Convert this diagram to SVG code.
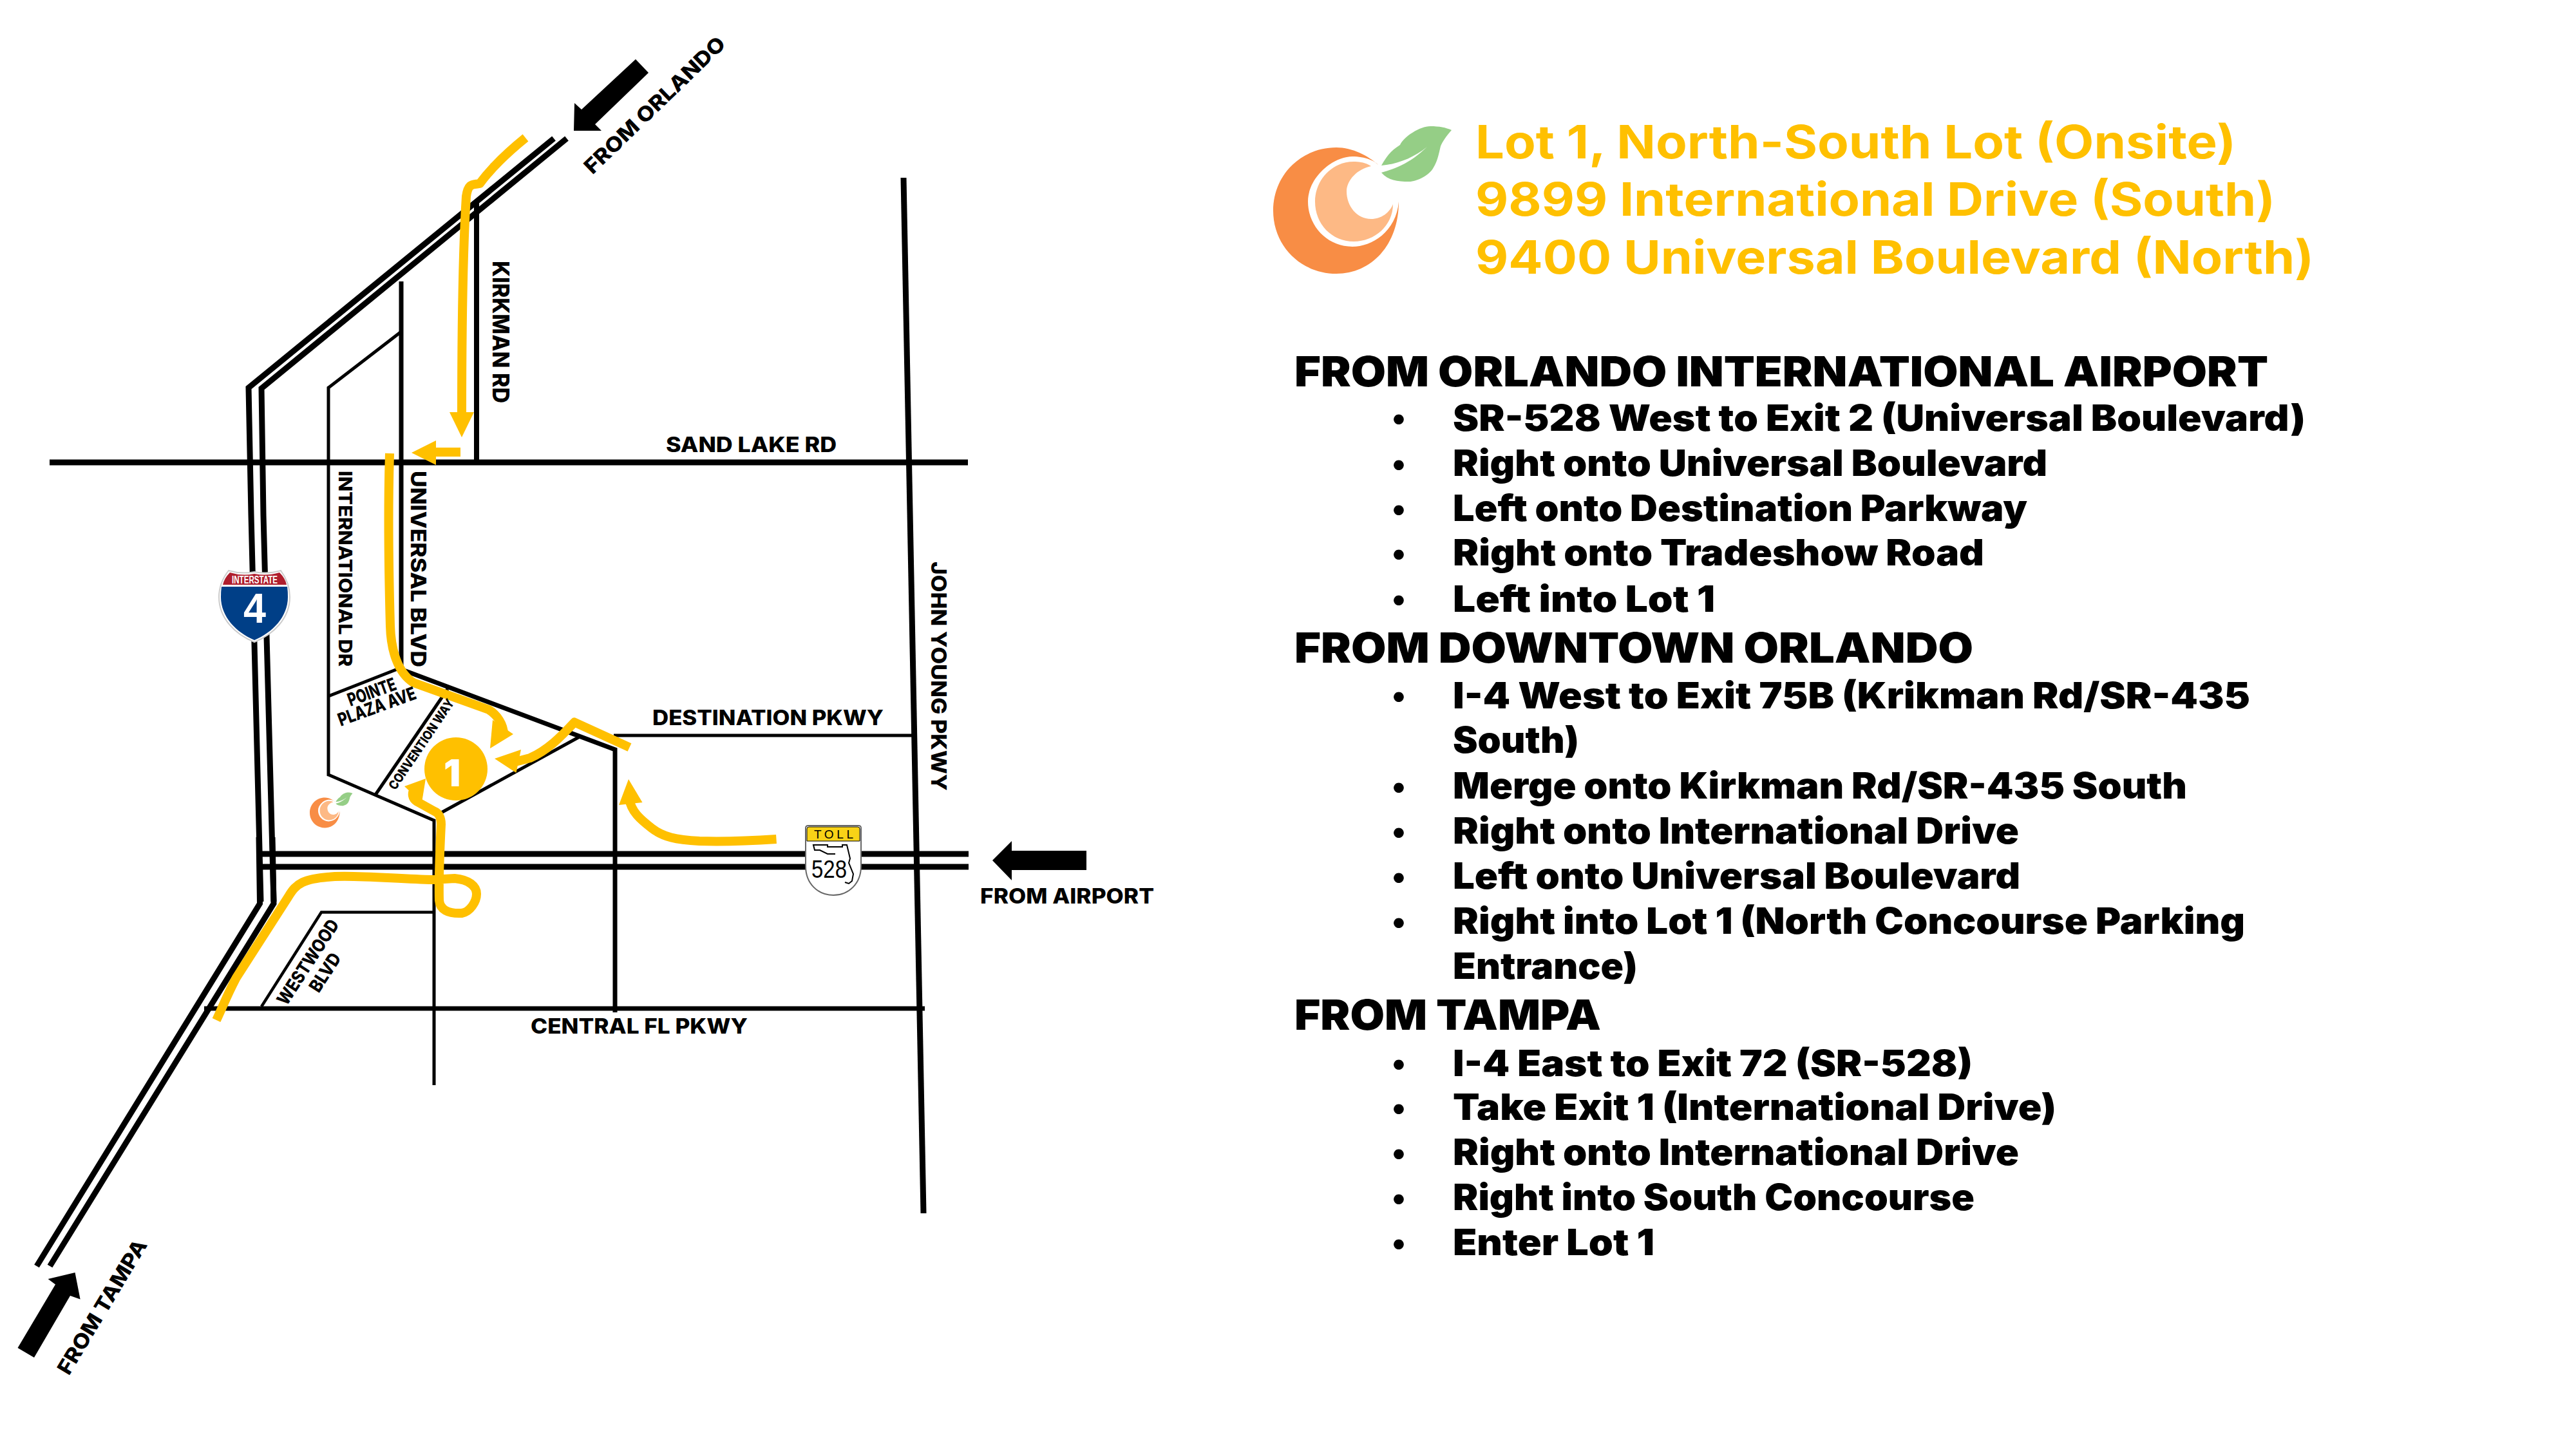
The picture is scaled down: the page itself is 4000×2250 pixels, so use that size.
<svg xmlns="http://www.w3.org/2000/svg" xmlns:xlink="http://www.w3.org/1999/xlink" width="4000" height="2250" viewBox="0 0 4000 2250">
<style>
text{font-family:Inter,"Liberation Sans",sans-serif;fill:#000}
.road{fill:none;stroke:#000;stroke-linejoin:miter}
.r9{stroke-width:9}.r8{stroke-width:8}.r7{stroke-width:7}.r5{stroke-width:5}.r4{stroke-width:4.5}
.route{fill:none;stroke:#FFC000;stroke-width:14;stroke-linejoin:round}
.head{fill:#FFC000;stroke:none}
.arr{fill:#000}
.lab{font-size:32px;font-weight:800}
.lab2{font-size:28px;font-weight:800}
.title{font-size:72px;font-weight:700;fill:#FFC000}
.h{font-size:65px;font-weight:900}
.b{font-size:56px;font-weight:900}
.bul{font-size:50px;font-weight:900;text-anchor:middle;transform:translate(-1px,-2px)}
.nar{font-family:"Liberation Sans",sans-serif}
</style>
<defs>
<g id="logo">
<path fill="#F88D45" d="M2140,256C2125,242 2100,229 2075,229C2020,229 1977,272 1977,327C1977,382 2020,425 2075,425C2130,425 2172,380 2172,313C2168,360 2130,383 2100,383C2060,383 2031,350 2031,313C2031,275 2070,243 2100,243C2120,243 2135,250 2140,256Z"/>
<path fill="#FDB985" d="M2129,258C2120,252 2110,251 2102,251C2068,251 2042,280 2042,313C2042,348 2068,375 2102,375C2135,375 2163,350 2163,317C2158,330 2145,340 2129,340C2107,340 2091,320 2091,297C2091,280 2108,262 2129,258Z"/>
<path fill="#95CE86" d="M2145,257C2152,245 2158,235 2174,225C2180,212 2205,196 2221,196C2235,196 2245,198 2254,202C2245,212 2240,220 2237,227C2234,240 2232,250 2226,260C2220,272 2200,282 2188,282C2170,282 2155,280 2145,268C2165,262 2188,255 2216,228C2195,245 2170,255 2145,257Z"/>
</g>
</defs>

<g id="roads">
<path class="road r9" d="M860,215L386,602L390,800L405,1400"/>
<path class="road r9" d="M880,215L406,603L409,800L425,1400"/>
<path class="road r9" d="M402,1300L403.5,1403L57,1966"/>
<path class="road r9" d="M423,1300L425,1403L77.5,1966"/>
<path class="road r9" d="M406,1326H1504M406,1346H1504"/>
<path class="road r9" d="M77,718H1503"/>
<path class="road r8" d="M740,311V718"/>
<path class="road r7" d="M623,437V1039"/>
<path class="road r5" d="M623,515L510,602V1203L674,1274V1685"/>
<path class="road r7" d="M622,1039L955,1164V1572"/>
<path class="road r5" d="M685,1262L900,1144"/>
<path class="road r5" d="M510,1081L617,1039"/>
<path class="road r5" d="M583,1234L695,1070"/>
<path class="road r5" d="M953,1142H1416"/>
<path class="road r9" d="M1403,276L1434,1884"/>
<path class="road r7" d="M317,1566H1436"/>
<path class="road r4" d="M406,1563L499,1416.5H672"/>
</g>

<g id="connectors">
<path class="route" d="M816,214C790,235 765,258 745,285C735,287 727,283 724,305C718,400 717,520 717,645"/>
<polygon class="head" points="698,640 736,640 717,679"/>
<path class="route" d="M715,702H670"/>
<polygon class="head" points="677,684 677,722 639,703"/>
<path class="route" d="M605,704C602,800 604,900 606,972C607,1010 618,1045 642,1060L759,1102C772,1110 782,1125 782,1140"/>
<polygon class="head" points="765,1118 761,1162 797,1140"/>
<path class="route" d="M977.5,1160.5L892,1121.5C870,1145 850,1165 823,1177L800,1183"/>
<polygon class="head" points="809,1164 801.5,1200 768,1178"/>
<path class="route" d="M1205.5,1303C1160,1306 1120,1307 1086,1306C1050,1304 1030,1300 1012,1286C994,1272 980,1260 977,1240"/>
<polygon class="head" points="961,1250 997.5,1246 976,1210"/>
<path class="route" d="M336,1584C345,1565 355,1540 367,1518L448,1392C460,1372 470,1364 520,1361C560,1359 620,1365 672,1366L706,1364C728,1366 740,1376 740,1388C740,1400 730,1416 717,1418C695,1419 683,1412 682,1398C681,1360 683,1320 685,1280C685,1268 680,1262 675,1260L648,1245C640,1240 638,1232 645,1222"/>
<polygon class="head" points="628,1221 661,1209 655,1246"/>
</g>

<g id="arrows">
<polygon class="arr" points="891,203 934,203 924,193 1007,113 987,92 903,170 892,160"/>
<polygon class="arr" points="1541,1336 1571,1306 1571,1321 1687,1321 1687,1351 1571,1351 1571,1367"/>
<polygon class="arr" points="116.5,1976 74.6,1986 86,1994.6 27.5,2093 53,2108 109,2012 124.6,2017.6"/>
</g>

<g id="lot-1">
<circle cx="708" cy="1194" r="49" fill="#FFC000"/>
<text x="702" y="1221" text-anchor="middle" style="font-size:58px;font-weight:900;fill:#fff">1</text>
</g>

<g id="labels">
<text class="lab" style="font-size:35px" transform="translate(765,405) rotate(90)" textLength="221" lengthAdjust="spacingAndGlyphs">KIRKMAN RD</text>
<text class="lab2" transform="translate(526,731) rotate(90)" textLength="304" lengthAdjust="spacingAndGlyphs">INTERNATIONAL DR</text>
<text class="lab" transform="translate(638,731) rotate(90)" textLength="305" lengthAdjust="spacingAndGlyphs">UNIVERSAL BLVD</text>
<text class="lab" transform="translate(1446,872) rotate(90)" textLength="356" lengthAdjust="spacingAndGlyphs">JOHN YOUNG PKWY</text>
<text class="lab" x="1034" y="702" textLength="265" lengthAdjust="spacingAndGlyphs">SAND LAKE RD</text>
<text class="lab" x="1013" y="1126" textLength="359" lengthAdjust="spacingAndGlyphs">DESTINATION PKWY</text>
<text class="lab" x="824" y="1605" textLength="337" lengthAdjust="spacingAndGlyphs">CENTRAL FL PKWY</text>
<text class="lab" x="1522" y="1403" textLength="270" lengthAdjust="spacingAndGlyphs">FROM AIRPORT</text>
<text class="lab" transform="translate(920,272) rotate(-44)" textLength="290" lengthAdjust="spacingAndGlyphs">FROM ORLANDO</text>
<text class="lab" transform="translate(107,2137) rotate(-59)" textLength="238" lengthAdjust="spacingAndGlyphs">FROM TAMPA</text>
<text class="lab2" transform="translate(445,1563) rotate(-57)" textLength="152" lengthAdjust="spacingAndGlyphs">WESTWOOD</text>
<text class="lab2" transform="translate(495,1543) rotate(-57)" textLength="66" lengthAdjust="spacingAndGlyphs">BLVD</text>
<text class="lab2" transform="translate(544,1097) rotate(-20)" textLength="78" lengthAdjust="spacingAndGlyphs">POINTE</text>
<text class="lab2" transform="translate(529,1128) rotate(-20)" textLength="127" lengthAdjust="spacingAndGlyphs">PLAZA AVE</text>
<text class="lab2" style="font-size:20px" transform="translate(614,1228) rotate(-56)" textLength="165" lengthAdjust="spacingAndGlyphs">CONVENTION WAY</text>
</g>

<g id="interstate-4">
<path fill="#fff" stroke="#ccc" stroke-width="2" d="M355,886Q375,892 395,888Q415,892 436,886Q450,905 450,927C450,960 425,985 395,997C365,985 340,960 340,927Q340,905 355,886Z"/>
<path fill="#AF1E2D" d="M357,889Q376,895 395,891Q414,895 434,889Q443,898 445,908H346Q348,898 357,889Z"/>
<path fill="#003F87" d="M344,911H446Q447,918 447,927C447,958 423,982 395,994C367,982 343,958 343,927Q343,918 344,911Z"/>
<text class="nar" x="360" y="906" textLength="71" lengthAdjust="spacingAndGlyphs" style="font-size:16px;font-weight:700;fill:#fff">INTERSTATE</text>
<text class="nar" x="378" y="967" textLength="35" lengthAdjust="spacingAndGlyphs" style="font-size:64px;font-weight:700;fill:#fff">4</text>
</g>

<g id="toll-528">
<path fill="#fff" stroke="#666" stroke-width="2" d="M1255,1282H1333Q1337,1282 1337,1286V1345C1337,1372 1318,1390 1294,1390C1270,1390 1251,1372 1251,1345V1286Q1251,1282 1255,1282Z"/>
<path fill="#F8D317" stroke="#000" stroke-width="1" d="M1256,1284H1332Q1335,1284 1335,1287V1306H1253V1287Q1253,1284 1256,1284Z"/>
<text class="nar" x="1264" y="1302" textLength="61" style="font-size:19px;font-weight:400">TOLL</text>
<path fill="none" stroke="#000" stroke-width="2" d="M1297,1326H1285L1273,1320H1265L1263,1312H1285V1315H1308V1312H1315L1320,1333L1318,1340L1325,1357L1323,1368L1318,1372L1312,1370"/>
<text class="nar" x="1260" y="1363" textLength="55" lengthAdjust="spacingAndGlyphs" style="font-size:38px;font-weight:400">528</text>
</g>

<g id="small-logo"><use xlink:href="#logo" href="#logo" transform="translate(6.5,1183.5) scale(.24)"/></g>

<g id="big-logo"><use xlink:href="#logo" href="#logo"/></g>

<g id="address">
<text class="title" x="2291" y="246" textLength="1181" lengthAdjust="spacingAndGlyphs">Lot 1, North-South Lot (Onsite)</text>
<text class="title" x="2291" y="335" textLength="1242" lengthAdjust="spacingAndGlyphs">9899 International Drive (South)</text>
<text class="title" x="2291" y="425" textLength="1302" lengthAdjust="spacingAndGlyphs">9400 Universal Boulevard (North)</text>
</g>

<g id="directions">
<text class="h" x="2010" y="600" textLength="1512" lengthAdjust="spacingAndGlyphs">FROM ORLANDO INTERNATIONAL AIRPORT</text>
<text class="bul" x="2173" y="668">•</text><text class="b" x="2256" y="669" textLength="1324" lengthAdjust="spacingAndGlyphs">SR-528 West to Exit 2 (Universal Boulevard)</text>
<text class="bul" x="2173" y="739">•</text><text class="b" x="2256" y="739" textLength="923" lengthAdjust="spacingAndGlyphs">Right onto Universal Boulevard</text>
<text class="bul" x="2173" y="809">•</text><text class="b" x="2256" y="809" textLength="892" lengthAdjust="spacingAndGlyphs">Left onto Destination Parkway</text>
<text class="bul" x="2173" y="878">•</text><text class="b" x="2256" y="878" textLength="825" lengthAdjust="spacingAndGlyphs">Right onto Tradeshow Road</text>
<text class="bul" x="2173" y="949">•</text><text class="b" x="2256" y="950" textLength="407" lengthAdjust="spacingAndGlyphs">Left into Lot 1</text>
<text class="h" x="2010" y="1029" textLength="1054" lengthAdjust="spacingAndGlyphs">FROM DOWNTOWN ORLANDO</text>
<text class="bul" x="2173" y="1099">•</text><text class="b" x="2256" y="1100" textLength="1238" lengthAdjust="spacingAndGlyphs">I-4 West to Exit 75B (Krikman Rd/SR-435</text>
<text class="b" x="2256" y="1169" textLength="196" lengthAdjust="spacingAndGlyphs">South)</text>
<text class="bul" x="2173" y="1240">•</text><text class="b" x="2256" y="1240" textLength="1140" lengthAdjust="spacingAndGlyphs">Merge onto Kirkman Rd/SR-435 South</text>
<text class="bul" x="2173" y="1310">•</text><text class="b" x="2256" y="1310" textLength="879" lengthAdjust="spacingAndGlyphs">Right onto International Drive</text>
<text class="bul" x="2173" y="1380">•</text><text class="b" x="2256" y="1380" textLength="881" lengthAdjust="spacingAndGlyphs">Left onto Universal Boulevard</text>
<text class="bul" x="2173" y="1450">•</text><text class="b" x="2256" y="1450" textLength="1230" lengthAdjust="spacingAndGlyphs">Right into Lot 1 (North Concourse Parking</text>
<text class="b" x="2256" y="1520" textLength="287" lengthAdjust="spacingAndGlyphs">Entrance)</text>
<text class="h" x="2010" y="1599" textLength="476" lengthAdjust="spacingAndGlyphs">FROM TAMPA</text>
<text class="bul" x="2173" y="1670">•</text><text class="b" x="2256" y="1671" textLength="807" lengthAdjust="spacingAndGlyphs">I-4 East to Exit 72 (SR-528)</text>
<text class="bul" x="2173" y="1739">•</text><text class="b" x="2256" y="1739" textLength="937" lengthAdjust="spacingAndGlyphs">Take Exit 1 (International Drive)</text>
<text class="bul" x="2173" y="1809">•</text><text class="b" x="2256" y="1809" textLength="879" lengthAdjust="spacingAndGlyphs">Right onto International Drive</text>
<text class="bul" x="2173" y="1879">•</text><text class="b" x="2256" y="1879" textLength="810" lengthAdjust="spacingAndGlyphs">Right into South Concourse</text>
<text class="bul" x="2173" y="1949">•</text><text class="b" x="2256" y="1949" textLength="313" lengthAdjust="spacingAndGlyphs">Enter Lot 1</text>
</g>
</svg>
